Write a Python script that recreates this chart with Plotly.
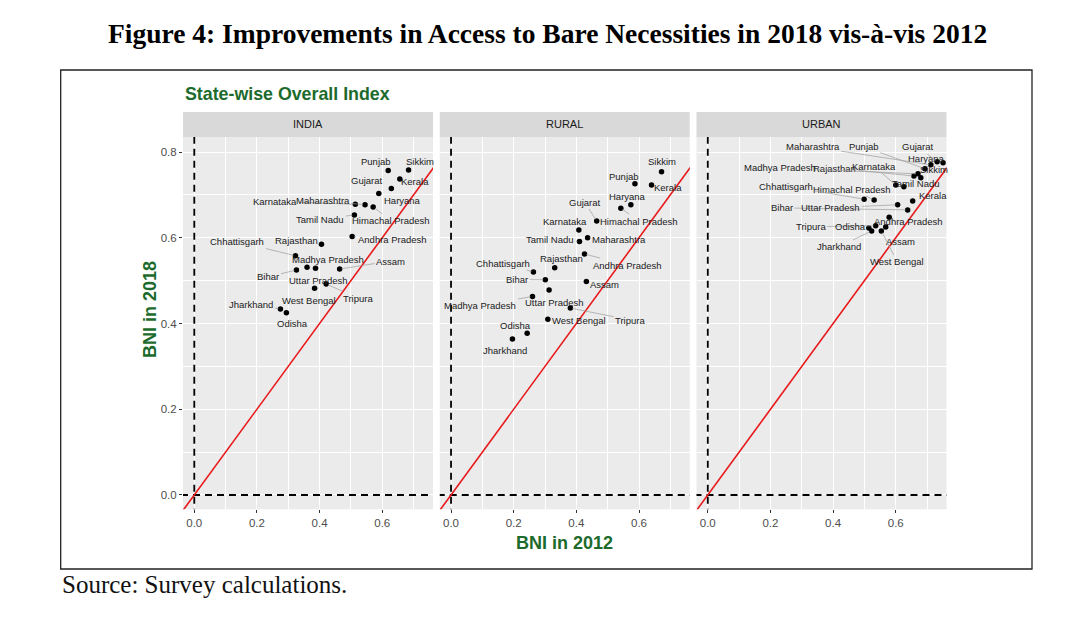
import plotly.graph_objects as go

W, H = 1087, 622

states = ["Punjab", "Sikkim", "Kerala", "Haryana", "Gujarat", "Karnataka", "Maharashtra",
          "Himachal Pradesh", "Tamil Nadu", "Andhra Pradesh", "Rajasthan", "Chhattisgarh",
          "Bihar", "Madhya Pradesh", "Uttar Pradesh", "Assam", "West Bengal", "Tripura",
          "Jharkhand", "Odisha"]

india_2012 = [0.619, 0.684, 0.656, 0.629, 0.589, 0.514, 0.545, 0.571, 0.511, 0.504, 0.406, 0.323,
              0.326, 0.360, 0.387, 0.464, 0.384, 0.421, 0.275, 0.294]
india_2018 = [0.757, 0.758, 0.737, 0.715, 0.703, 0.678, 0.677, 0.672, 0.653, 0.603, 0.585, 0.558,
              0.525, 0.531, 0.529, 0.527, 0.482, 0.492, 0.434, 0.425]

rural_2012 = [0.587, 0.672, 0.640, 0.574, 0.465, 0.408, 0.436, 0.542, 0.410, 0.426, 0.331, 0.263,
              0.301, 0.260, 0.313, 0.432, 0.309, 0.381, 0.196, 0.243]
rural_2018 = [0.726, 0.754, 0.723, 0.677, 0.639, 0.618, 0.600, 0.669, 0.591, 0.562, 0.530, 0.520,
              0.502, 0.463, 0.478, 0.498, 0.410, 0.436, 0.364, 0.377]

urban_2012 = [0.693, 0.680, 0.654, 0.751, 0.732, 0.600, 0.712, 0.531, 0.626, 0.579, 0.658, 0.499,
              0.638, 0.671, 0.606, 0.568, 0.554, 0.536, 0.523, 0.514]
urban_2018 = [0.761, 0.740, 0.686, 0.775, 0.777, 0.723, 0.770, 0.688, 0.719, 0.648, 0.744, 0.690,
              0.665, 0.749, 0.677, 0.625, 0.616, 0.628, 0.616, 0.623]

panels = ["INDIA", "RURAL", "URBAN"]
x_ticks = [0.0, 0.2, 0.4, 0.6]
y_ticks = [0.0, 0.2, 0.4, 0.6, 0.8]

# label offsets in pixels (dx, dy) from each point, per panel
india_off = {"Punjab": (-12, -9), "Sikkim": (11, -9), "Kerala": (15, 2), "Haryana": (11, 12),
             "Gujarat": (-12, -13), "Karnataka": (-80, -3), "Maharashtra": (-42, -4),
             "Himachal Pradesh": (18, 14), "Tamil Nadu": (-34, 4), "Andhra Pradesh": (40, 3),
             "Rajasthan": (-25, -4), "Chhattisgarh": (-58, -14), "Bihar": (-28, 7),
             "Madhya Pradesh": (21, -8), "Uttar Pradesh": (3, 12), "Assam": (51, -8),
             "West Bengal": (-6, 12), "Tripura": (32, 14), "Jharkhand": (-29, -4), "Odisha": (6, 11)}
rural_off = {"Punjab": (-11, -7), "Sikkim": (0, -10), "Kerala": (16, 2), "Haryana": (-3, -8),
             "Gujarat": (-12, -19), "Karnataka": (-14, -9), "Maharashtra": (31, 2),
             "Himachal Pradesh": (18, 13), "Tamil Nadu": (-29, -2), "Andhra Pradesh": (43, 11),
             "Rajasthan": (7, -9), "Chhattisgarh": (-30, -9), "Bihar": (-28, 0),
             "Madhya Pradesh": (-52, 9), "Uttar Pradesh": (5, 12), "Assam": (18, 3),
             "West Bengal": (31, 1), "Tripura": (60, 12), "Jharkhand": (-7, 12), "Odisha": (-12, -8)}
urban_off = {"Punjab": (-61, -22), "Sikkim": (13, -8), "Kerala": (20, -5), "Haryana": (-17, -4),
             "Gujarat": (-19, -15), "Karnataka": (-22, -19), "Maharashtra": (-118, -18),
             "Himachal Pradesh": (-22, -11), "Tamil Nadu": (12, -3), "Andhra Pradesh": (19, 4),
             "Rajasthan": (-79, -8), "Chhattisgarh": (-78, -13), "Bihar": (-126, -2),
             "Madhya Pradesh": (-138, -6), "Uttar Pradesh": (-67, 3), "Assam": (15, 14),
             "West Bengal": (16, 31), "Tripura": (-65, 1), "Jharkhand": (-33, 16), "Odisha": (-18, -1)}

data = [(india_2012, india_2018, india_off), (rural_2012, rural_2018, rural_off),
        (urban_2012, urban_2018, urban_off)]

# geometry in pixels
px_panels = [(183, 433), (439.75, 689.75), (696.5, 946.5)]
p_top, p_bot = 137, 509.3
strip_top = 112
XR = [-0.036, 0.762]
YR = [-0.0334, 0.835]

def fx(p):
    return p / W

def fy(p):
    return 1 - p / H

green = "#1c6a2c"
SANS = "Liberation Sans, Arial"
SERIF = "Liberation Serif, Times New Roman"
fig = go.Figure()
annotations = []
shapes = []

for i, (name, (xs, ys, off)) in enumerate(zip(panels, data)):
    sx = "" if i == 0 else str(i + 1)
    xa, ya = "x" + sx, "y" + sx
    # dashed reference lines
    fig.add_trace(go.Scatter(x=[0, 0], y=[-1, 2], mode="lines", xaxis=xa, yaxis=ya,
                             line=dict(color="black", width=1.8, dash="7px,5px"),
                             hoverinfo="skip", showlegend=False))
    fig.add_trace(go.Scatter(x=[-1, 2], y=[0, 0], mode="lines", xaxis=xa, yaxis=ya,
                             line=dict(color="black", width=1.8, dash="7px,5px"),
                             hoverinfo="skip", showlegend=False))
    # 45-degree line
    fig.add_trace(go.Scatter(x=[-1, 2], y=[-1, 2], mode="lines", xaxis=xa, yaxis=ya,
                             line=dict(color="#e8191b", width=1.6),
                             hoverinfo="skip", showlegend=False))
    fig.add_trace(go.Scatter(x=xs, y=ys, mode="markers", xaxis=xa, yaxis=ya, text=states,
                             marker=dict(color="black", size=5.5), showlegend=False))
    for s, x, y in zip(states, xs, ys):
        dx, dy = off[s]
        far = (dx * dx + dy * dy) ** 0.5 > 22
        annotations.append(dict(x=x, y=y, xref=xa, yref=ya, text=s, showarrow=True,
                                ax=dx, ay=dy, arrowhead=0, arrowwidth=0.7, standoff=2,
                                arrowcolor="#9c9c9c" if far else "rgba(0,0,0,0)",
                                font=dict(family=SANS, size=9.5, color="#222222")))
    l, r = px_panels[i]
    shapes.append(dict(type="rect", xref="paper", yref="paper", x0=fx(l), x1=fx(r),
                       y0=fy(p_top), y1=fy(strip_top), fillcolor="#D9D9D9", line=dict(width=0),
                       layer="below"))
    annotations.append(dict(x=fx((l + r) / 2), y=fy((p_top + strip_top) / 2), xref="paper",
                            yref="paper", text=name, showarrow=False,
                            xanchor="center", yanchor="middle",
                            font=dict(family=SANS, size=11, color="#1A1A1A")))
    axis_common = dict(range=XR, tickvals=x_ticks, ticktext=[f"{v:.1f}" for v in x_ticks],
                       ticks="outside", ticklen=3, tickcolor="#333333", tickwidth=1,
                       showgrid=True, gridcolor="white", gridwidth=1.1, zeroline=False,
                       showline=False, domain=[fx(l), fx(r)],
                       tickfont=dict(family=SANS, size=11.5, color="#4D4D4D"),
                       minor=dict(tickvals=[0.1, 0.3, 0.5, 0.7], showgrid=True, gridcolor="white",
                                  gridwidth=0.5, ticks=""),
                       anchor=ya, fixedrange=True)
    fig.update_layout(**{"xaxis" + sx: axis_common})
    yaxis = dict(range=YR, tickvals=y_ticks, ticktext=[f"{v:.1f}" for v in y_ticks],
                 showgrid=True, gridcolor="white", gridwidth=1.1, zeroline=False,
                 domain=[fy(p_bot), fy(p_top)], anchor=xa, fixedrange=True,
                 minor=dict(tickvals=[0.1, 0.3, 0.5, 0.7], showgrid=True, gridcolor="white",
                            gridwidth=0.5, ticks=""),
                 tickfont=dict(family=SANS, size=11.5, color="#4D4D4D"))
    if i == 0:
        yaxis.update(ticks="outside", ticklen=3, tickcolor="#333333", tickwidth=1,
                     showticklabels=True)
    else:
        yaxis.update(ticks="", showticklabels=False, matches="y")
    fig.update_layout(**{"yaxis" + sx: yaxis})

# outer frame
shapes.append(dict(type="rect", xref="paper", yref="paper", x0=fx(60.7), x1=fx(1032),
                   y0=fy(569), y1=fy(70), line=dict(color="#222222", width=1.3)))

annotations += [
    dict(x=fx(547), y=fy(33), xref="paper", yref="paper", showarrow=False,
         xanchor="center", yanchor="middle",
         text="<b>Figure 4: Improvements in Access to Bare Necessities in 2018 vis-à-vis 2012</b>",
         font=dict(family=SERIF, size=27.5, color="black")),
    dict(x=fx(183), y=fy(94), xref="paper", yref="paper", showarrow=False,
         xanchor="left", yanchor="middle",
         text="<b>State-wise Overall Index</b>",
         font=dict(family=SANS, size=17.8, color=green)),
    dict(x=fx(564.75), y=fy(543), xref="paper", yref="paper", showarrow=False,
         xanchor="center", yanchor="middle",
         text="<b>BNI in 2012</b>", font=dict(family=SANS, size=18, color=green)),
    dict(x=fx(150), y=fy(310), xref="paper", yref="paper", showarrow=False, textangle=-90,
         xanchor="center", yanchor="middle",
         text="<b>BNI in 2018</b>", font=dict(family=SANS, size=18, color=green)),
    dict(x=fx(60), y=fy(584), xref="paper", yref="paper", showarrow=False,
         xanchor="left", yanchor="middle",
         text="Source: Survey calculations.",
         font=dict(family=SERIF, size=25, color="#111111")),
]

fig.update_layout(width=W, height=H, margin=dict(l=0, r=0, t=0, b=0),
                  paper_bgcolor="white", plot_bgcolor="#EBEBEB", showlegend=False,
                  annotations=annotations, shapes=shapes)

fig.write_html("out.html")
